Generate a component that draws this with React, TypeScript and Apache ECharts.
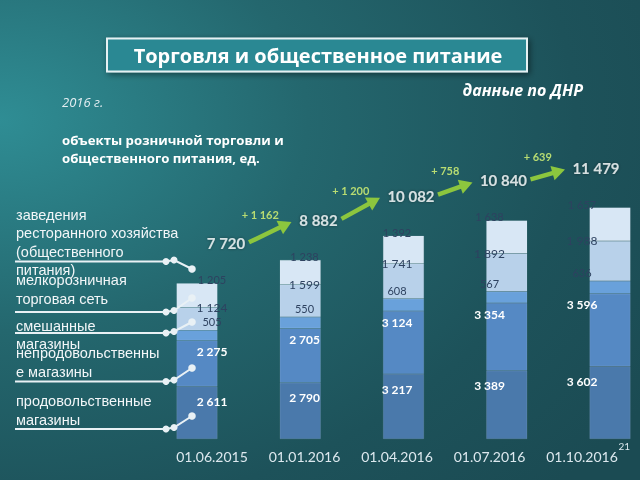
import React, { useEffect, useRef } from "react";
import * as echarts from "echarts";

const dates = ["01.06.2015", "01.01.2016", "01.04.2016", "01.07.2016", "01.10.2016"];
const seriesNames = [
  "продовольственные магазины",
  "непродовольственные магазины",
  "смешанные магазины",
  "мелкорозничная торговая сеть",
  "заведения ресторанного хозяйства (общественного питания)",
];
const food = [2611, 2790, 3217, 3389, 3602];
const nonFood = [2275, 2705, 3124, 3354, 3596];
const mixed = [505, 550, 608, 567, 636];
const smallRetail = [1124, 1599, 1741, 1892, 1988];
const restaurants = [1205, 1238, 1392, 1638, 1657];

const legendTexts = [
  "заведения\nресторанного хозяйства\n(общественного\nпитания)",
  "мелкорозничная\nторговая сеть",
  "смешанные\nмагазины",
  "непродовольственны\nе магазины",
  "продовольственные\nмагазины",
];

const fmt = (n: number) => String(Math.round(n)).replace(/\B(?=(\d{3})+(?!\d))/g, " ");

export default function App() {
  const ref = useRef<HTMLDivElement>(null);
  useEffect(() => {
    if (!ref.current) return;
    const chart = echarts.init(ref.current, undefined, { renderer: "svg" });
    const segs = [food, nonFood, mixed, smallRetail, restaurants];
    const colors = ["#4a79ab", "#5589c4", "#69a1db", "#b8d1ea", "#d8e7f5"];
    const totals = dates.map((_, i) => segs.reduce((s, a) => s + a[i], 0));
    const arrowData = totals.slice(0, -1).map((t, i) => [i, t, totals[i + 1], totals[i + 1] - t]);

    const numFont = "Lato, 'Open Sans', sans-serif";
    const cyrFont = "'Open Sans', Roboto, sans-serif";

    const labelCfg = [
      { position: "insideTop", distance: 9, color: "#ffffff", fontWeight: "bold", fontSize: 12 },
      { position: "insideTop", distance: 5, color: "#ffffff", fontWeight: "bold", fontSize: 12 },
      { position: "top", distance: 3, color: "#2e4260", fontWeight: "normal", fontSize: 11 },
      { position: "top", distance: -6, color: "#2e4260", fontWeight: "normal", fontSize: 12 },
      { position: "top", distance: -2, color: "#2e4260", fontWeight: "normal", fontSize: 11 },
    ];

    const barSeries: any[] = segs.map((d, k) => ({
      name: seriesNames[k],
      type: "bar",
      xAxisIndex: 0,
      yAxisIndex: 0,
      stack: "bars",
      barWidth: 41,
      clip: false,
      data: d,
      itemStyle: { color: colors[k], borderColor: "rgba(255,255,255,0.2)", borderWidth: 0.5 },
    }));

    const labelSeries: any[] = segs.map((d, k) => ({
      name: seriesNames[k] + " label",
      type: "bar",
      xAxisIndex: 1,
      yAxisIndex: 1,
      stack: "labels",
      barWidth: 30,
      clip: false,
      data: d,
      itemStyle: { color: "rgba(0,0,0,0)" },
      label: {
        show: true,
        position: labelCfg[k].position,
        distance: labelCfg[k].distance,
        color: labelCfg[k].color,
        fontWeight: labelCfg[k].fontWeight,
        fontSize: labelCfg[k].fontSize,
        fontFamily: numFont,
        formatter: (p: any) => fmt(p.value),
      },
      z: 5,
    }));

    const totalSeries = {
      name: "totals",
      type: "scatter",
      xAxisIndex: 1,
      yAxisIndex: 1,
      symbolSize: 1,
      clip: false,
      itemStyle: { color: "rgba(0,0,0,0)" },
      data: totals,
      label: {
        show: true,
        position: "top",
        distance: 32,
        offset: [14, 0],
        color: "#ffffff",
        fontWeight: "bold",
        fontSize: 15,
        fontFamily: numFont,
        textShadowColor: "rgba(0,0,0,0.5)",
        textShadowBlur: 3,
        formatter: (p: any) => fmt(p.value),
      },
      z: 6,
    };

    const arrowSeries = {
      name: "arrows",
      type: "custom",
      xAxisIndex: 1,
      yAxisIndex: 1,
      clip: false,
      encode: { x: 0, y: 1 },
      data: arrowData,
      renderItem: (_params: any, api: any) => {
        const i = api.value(0);
        const t0 = api.value(1);
        const t1 = api.value(2);
        const d = api.value(3);
        const a = api.coord([i, t0]);
        const b = api.coord([i + 1, t1]);
        const w0 = fmt(t0).length * 8;
        const w1 = fmt(t1).length * 8;
        const sx = a[0] + 14 + w0 / 2 + 3;
        const sy = a[1] - 40 - 1;
        const ex = b[0] + 14 - w1 / 2 - 7;
        const ey = b[1] - 40 + 2;
        const ang = Math.atan2(ey - sy, ex - sx);
        const hl = 13, hw = 7.5;
        const bx = ex - hl * Math.cos(ang), by = ey - hl * Math.sin(ang);
        const nx = -Math.sin(ang), ny = Math.cos(ang);
        return {
          type: "group",
          children: [
            { type: "line", shape: { x1: sx, y1: sy, x2: bx + Math.cos(ang), y2: by + Math.sin(ang) }, style: { stroke: "#8cc63e", lineWidth: 4.5 } },
            { type: "polygon", shape: { points: [[ex, ey], [bx + nx * hw, by + ny * hw], [bx - nx * hw, by - ny * hw]] }, style: { fill: "#8cc63e" } },
            {
              type: "text",
              x: (sx + ex) / 2 - 10,
              y: (sy + ey) / 2 - 18,
              style: { text: "+ " + fmt(d), fill: "#b8dc72", fontSize: 11, fontWeight: "bold", fontFamily: numFont, align: "center", verticalAlign: "middle" },
            },
          ],
        };
      },
      z: 6,
    };

    const underY = [261.5, 312, 333, 381.5, 429];
    const endY = [269, 298, 322, 368, 416];
    const legendTop = [205.5, 270, 316.5, 343, 392];
    const legendLH = [18.5, 19.5, 18.5, 19, 18.5];

    const graphics: any[] = [
      {
        type: "rect",
        z: 1,
        shape: { x: 107, y: 38.5, width: 420, height: 33 },
        style: { fill: "#2a8893", stroke: "#e6f1f3", lineWidth: 2, shadowBlur: 6, shadowColor: "rgba(0,0,0,0.45)", shadowOffsetX: 2, shadowOffsetY: 2 },
      },
      { type: "text", z: 2, x: 318, y: 55, style: { text: "Торговля и общественное питание", fill: "#ffffff", fontSize: 20, fontWeight: "bold", fontFamily: cyrFont, align: "center", verticalAlign: "middle" } },
      { type: "text", x: 583, y: 90, style: { text: "данные по ДНР", fill: "#ffffff", fontSize: 16, fontWeight: "bold", fontStyle: "italic", fontFamily: cyrFont, align: "right", verticalAlign: "middle" } },
      { type: "text", x: 62, y: 102, style: { text: "2016 г.", fill: "#e4eef2", fontSize: 13, fontStyle: "italic", fontFamily: cyrFont, align: "left", verticalAlign: "middle" } },
      { type: "text", x: 62, y: 131, style: { text: "объекты розничной торговли и\nобщественного питания, ед.", fill: "#ffffff", fontSize: 13.2, lineHeight: 18, fontWeight: "bold", fontFamily: cyrFont, align: "left", verticalAlign: "top" } },
      { type: "text", x: 630, y: 446, style: { text: "21", fill: "#dce8ee", fontSize: 10, fontFamily: numFont, align: "right", verticalAlign: "middle" } },
    ];
    legendTexts.forEach((t, k) => {
      graphics.push({
        type: "text",
        x: 16,
        y: legendTop[k],
        style: { text: t, fill: "#f2f6f8", fontSize: 14.5, lineHeight: legendLH[k], fontFamily: "'Liberation Sans', Arial, sans-serif", align: "left", verticalAlign: "top" },
      });
      const y = underY[k];
      graphics.push({ type: "polyline", z: 100, shape: { points: [[15, y], [166, y], [174, y - 1.5], [192, endY[k]]] }, style: { stroke: "#e9f1f5", lineWidth: 2, fill: null } });
      graphics.push({ type: "circle", z: 100, shape: { cx: 166, cy: y, r: 3.5 }, style: { fill: "#e9f1f5" } });
      graphics.push({ type: "circle", z: 100, shape: { cx: 174, cy: y - 1.5, r: 3.5 }, style: { fill: "#e9f1f5" } });
      graphics.push({ type: "circle", z: 100, shape: { cx: 192, cy: endY[k], r: 3.8 }, style: { fill: "#e9f1f5" } });
    });

    chart.setOption({
      animation: false,
      grid: [
        { left: 197, width: 413, top: 197, bottom: 41 },
        { left: 212, width: 370, top: 197, bottom: 41 },
      ],
      xAxis: [
        { type: "category", gridIndex: 0, data: dates, boundaryGap: false, show: false },
        {
          type: "category",
          gridIndex: 1,
          data: dates,
          boundaryGap: false,
          axisLine: { show: false },
          axisTick: { show: false },
          axisLabel: { color: "#dce8ee", fontSize: 14, fontFamily: numFont, margin: 10, interval: 0 },
        },
      ],
      yAxis: [
        { type: "value", gridIndex: 0, min: 0, max: 12000, show: false },
        { type: "value", gridIndex: 1, min: 0, max: 12000, show: false },
      ],
      graphic: graphics,
      series: [...barSeries, ...labelSeries, totalSeries, arrowSeries],
    });
    return () => chart.dispose();
  }, []);
  return (
    <div
      ref={ref}
      style={{
        position: "fixed",
        left: 0,
        top: 0,
        width: 640,
        height: 480,
        background: "radial-gradient(ellipse 120% 110% at 0% 25%, #2f8d94 0%, #24676e 40%, #1d525a 75%, #1b4b53 100%)",
      }}
    />
  );
}
